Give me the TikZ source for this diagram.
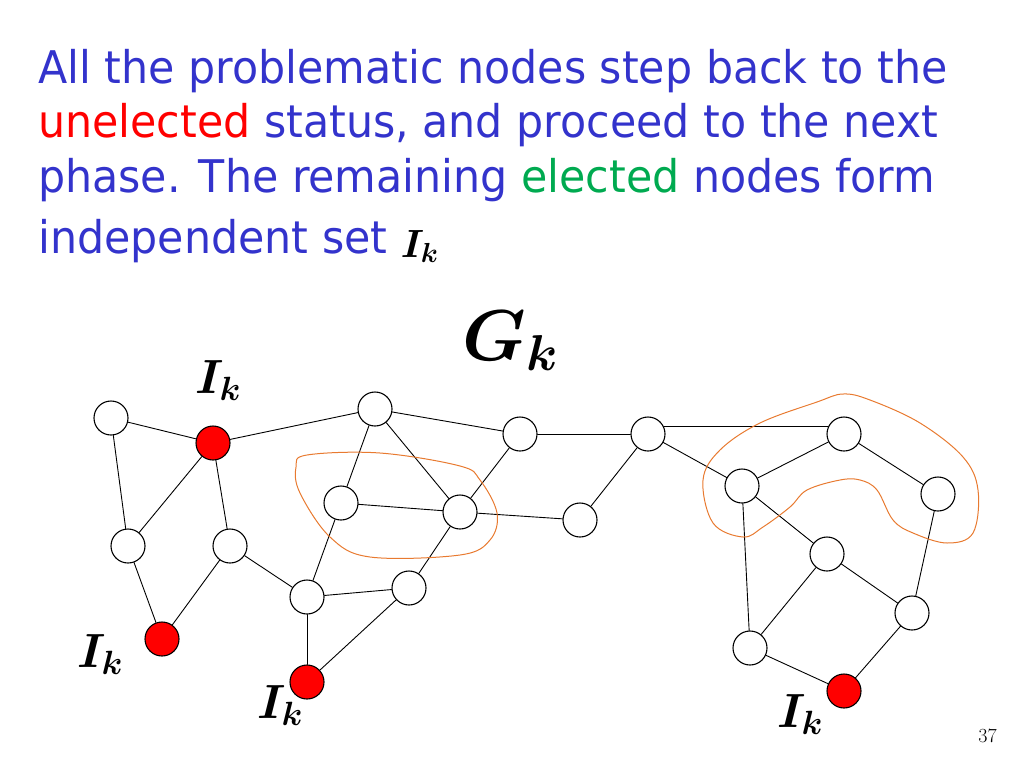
\RequirePackage{fix-cm}
\documentclass[tikz,border=0pt]{standalone}
\usepackage{fontspec}
\newfontfamily\slidefont{DejaVu Sans}[FakeStretch=0.95]
\definecolor{slideblue}{RGB}{51,51,204}
\definecolor{slidered}{RGB}{255,0,0}
\definecolor{slidegreen}{RGB}{0,170,80}
\definecolor{penorange}{RGB}{232,122,48}

\begin{document}
\begin{tikzpicture}[x=1pt,y=-1pt,line cap=round,
	vertex/.style={circle,draw,line width=1.1pt,minimum size=34pt,inner sep=0pt,fill=white},
	chosen/.style={vertex,fill=slidered},
	headline/.style={anchor=base west,inner sep=0pt,text=slideblue,font=\slidefont\fontsize{45}{54}\selectfont},
	setname/.style={anchor=base west,inner sep=0pt,font=\fontsize{48}{52}\selectfont\boldmath}]
		\useasboundingbox (0,0) rectangle (1024,768);

		% the text of the slide
		\node[headline] (line1) at (38,83) {All the problematic nodes step back to the};
		\node[headline] (line2) at (38,137) {\textcolor{slidered}{unelected} status, and proceed to the next};
		\node[headline] (line3) at (38,192) {phase. The remaining \textcolor{slidegreen}{elected} nodes form};
		\node[headline] (line4) at (38,253) {independent set};
		\node[setname,xshift=13pt,yshift=-4pt] (ikt) at (line4.base east) {\scalebox{0.82}{$I_k$}};

		% draw the nodes of the graph
		\foreach \name/\x/\y in {
			% the left part
			wa/111/418, wb/128/546, wc/230/546,
			% the middle part
			wd/375/409, we/341/503, wf/460/512, wg/307/597, wh/409/588,
			wj/520/434, wk/648/434, wl/580/520,
			% the right part
			wm/844/434, wn/742/486, wo/938/494, wp/827/554, wq/912/613, ws/750/648}
		\node[vertex] (\name) at (\x,\y) {};

		% the nodes of the independent set
		\foreach \name/\x/\y in {ra/213/443, rb/162/639, rc/307/682, rd/844/691}
		\node[chosen] (\name) at (\x,\y) {};

		% draw the edges
		\foreach \a/\b in {
			wa/ra, wa/wb, ra/wb, ra/wc, ra/wd, wb/rb, wc/rb, wc/wg,
			wd/we, wd/wf, wd/wj, we/wf, we/wg, wf/wh, wf/wl, wf/wj,
			wg/wh, wg/rc, wh/rc, wj/wk, wk/wl, wk/wn, wn/wm,
			wm/wo, wn/wp, wn/ws, wp/ws, wp/wq, wo/wq, ws/rd, wq/rd}
		\draw[line width=0.9pt] (\a) -- (\b);
		\draw[line width=0.9pt] (wk.25) -- (wm.155);

		% the labels
		\node[setname] (ika) at (195,393) {$I_k$};
		\node[setname] (ikb) at (77,667) {$I_k$};
		\node[setname] (ikc) at (257,718) {$I_k$};
		\node[setname] (ikd) at (777,727) {$I_k$};
		\node[setname,font=\fontsize{72}{76}\selectfont\boldmath] (gk) at (462,360) {$G_k$};

		% the problematic nodes, circled by hand
		\draw[penorange,line width=1pt] plot[smooth cycle,tension=0.6] coordinates {
			(307,455) (380,453) (460,466) (480,480) (497,513) (490,540) (460,555)
			(370,557) (330,537) (300,493) (296,467)};
		\draw[penorange,line width=1pt] plot[smooth cycle,tension=0.6] coordinates {
			(703,480) (720,450) (760,423) (817,402) (843,394) (870,400) (920,423)
			(963,457) (978,490) (973,533) (947,543) (913,533) (893,520) (877,490)
			(860,480) (840,480) (807,490) (790,507) (763,527) (743,537) (713,523)};

		% page number
		\node[anchor=base east,inner sep=0pt,font=\fontsize{20}{24}\selectfont] (page) at (997,742) {37};
\end{tikzpicture}
\end{document}
